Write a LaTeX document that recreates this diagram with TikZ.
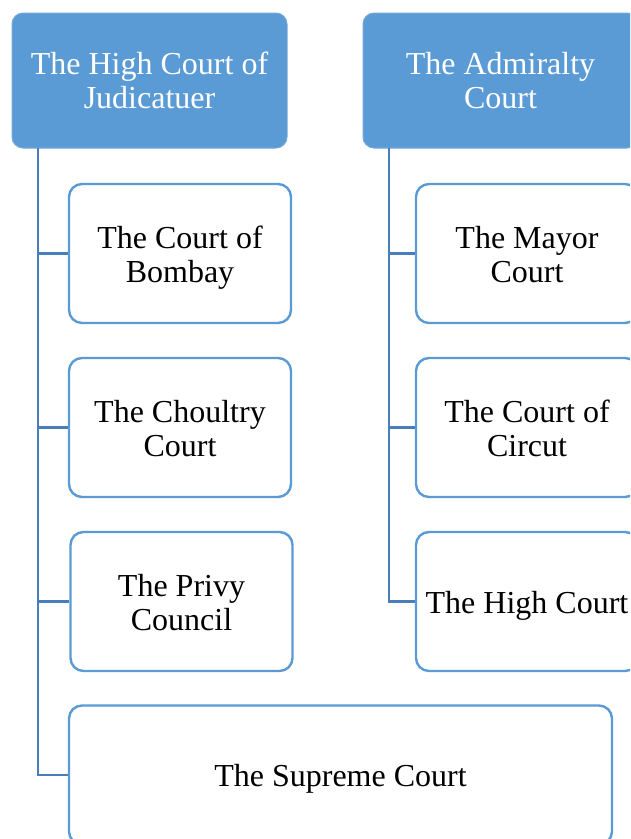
\documentclass[tikz,border=0pt]{standalone}
\usepackage{fontspec}
\setmainfont{Liberation Serif}
\definecolor{boxblue}{HTML}{5B9BD5}
\definecolor{linkblue}{HTML}{4A7EBB}
\newcommand{\boxlbl}[1]{\raisebox{-5pt}[\height][\depth]{\begin{tabular}{@{}c@{}}#1\end{tabular}}}
\begin{document}
\begin{tikzpicture}[x=1pt,y=-1pt,
  headbox/.style={rectangle, rounded corners=11pt, fill=boxblue, draw=boxblue!85!white, line width=1pt,
    minimum width=275pt, minimum height=135pt, text=white, align=center,
    font=\fontsize{32}{34}\selectfont, inner sep=0pt},
  childbox/.style={rectangle, rounded corners=13pt, fill=white, draw=boxblue, line width=2.4pt,
    minimum width=222pt, minimum height=139pt, text=black, align=center,
    font=\fontsize{32}{34}\selectfont, inner sep=0pt},
  conn/.style={draw=linkblue, line width=2.8pt}]
\useasboundingbox (0,0) rectangle (630,839);
\clip (0,0) rectangle (630,839);
\fill[white] (0,0) rectangle (630,839);
% heads
\node[headbox] (hc) at (149.5,80.5) {The High Court of\\Judicatuer};
\node[headbox] (ad) at (500.5,80.5) {The Admiralty\\Court};
% left children
\node[childbox] (bom) at (180,253.5) {\boxlbl{The Court of\\Bombay}};
\node[childbox] (cho) at (180,427.5) {\boxlbl{The Choultry\\Court}};
\node[childbox] (pri) at (181.5,601.5) {\boxlbl{The Privy\\Council}};
\node[childbox, minimum width=543pt] (sup) at (340.5,775) {\boxlbl{The Supreme Court}};
% right children
\node[childbox] (may) at (527,253.5) {\boxlbl{The Mayor\\Court}};
\node[childbox] (cir) at (527,427.5) {\boxlbl{The Court of\\Circut}};
\node[childbox] (hig) at (527,601.5) {\boxlbl{The High Court}};
% connectors
\coordinate (ls) at (38,148);
\coordinate (rs) at (389,148);
\draw[conn] (ls) |- (sup.west);
\draw[conn] (ls) |- (bom.west);
\draw[conn] (ls) |- (cho.west);
\draw[conn] (ls) |- (pri.west);
\draw[conn] (rs) |- (hig.west);
\draw[conn] (rs) |- (may.west);
\draw[conn] (rs) |- (cir.west);
\end{tikzpicture}
\end{document}
